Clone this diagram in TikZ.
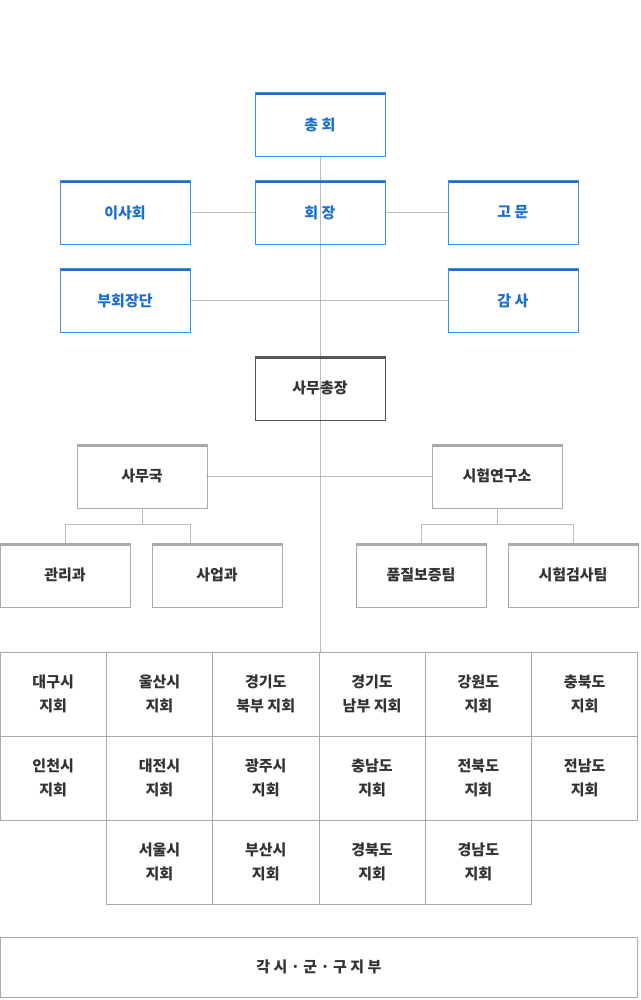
\documentclass[tikz,border=0pt]{standalone}
\usepackage{fontspec}
\newfontfamily\kr{Noto Sans CJK KR}
\definecolor{bl}{HTML}{1A6FD0}
\definecolor{blt}{HTML}{3D8EDB}
\definecolor{ln}{HTML}{BBBBBB}
\definecolor{gb}{HTML}{AAAAAA}
\definecolor{dk}{HTML}{555555}
\definecolor{tx}{HTML}{333333}
\tikzset{
 every node/.style={font=\kr\bfseries\fontsize{15}{24}\selectfont, text=tx, align=center},
 bbox/.style={draw=blt, line width=0.8pt, minimum width=130pt, minimum height=64pt, inner sep=0pt, text=bl,
   append after command={\pgfextra{\draw[bl, line width=3pt] (\tikzlastnode.north west)++(0,-1.5pt) -- ([yshift=-1.5pt]\tikzlastnode.north east);}}},
 gbox/.style={draw=gb, line width=0.8pt, minimum width=130pt, minimum height=64pt, inner sep=0pt,
   append after command={\pgfextra{\draw[gb, line width=3pt] (\tikzlastnode.north west)++(0,-1.5pt) -- ([yshift=-1.5pt]\tikzlastnode.north east);}}},
 dbox/.style={draw=dk, line width=0.8pt, minimum width=130pt, minimum height=64pt, inner sep=0pt,
   append after command={\pgfextra{\draw[dk, line width=3pt] (\tikzlastnode.north west)++(0,-1.5pt) -- ([yshift=-1.5pt]\tikzlastnode.north east);}}},
 cell/.style={draw=gb, line width=0.8pt, minimum width=106.3pt, minimum height=84pt, inner sep=0pt},
 conn/.style={draw=ln, line width=0.8pt}
}
\begin{document}
\begin{tikzpicture}[x=1pt,y=-1pt]
\useasboundingbox[fill=white] (0,0) rectangle (640,1000);
\coordinate (top) at (320,157);
\coordinate (gtop) at (320,652);
\draw[conn] (top) -- (gtop);
\draw[conn] (190,212) -- (255,212) (385,212) -- (448,212);
\draw[conn] (190,300) -- (448,300);
\draw[conn] (206,476) -- (432,476);
\draw[conn] (142,508) -- (142,524) (65,543) -- (65,524) -- (190,524) -- (190,543);
\draw[conn] (497,508) -- (497,524) (421,543) -- (421,524) -- (573,524) -- (573,543);
\node[bbox] (ch) at (320,124.5) {총 회};
\node[bbox] (pr) at (320,212.5) {회 장};
\node[bbox] (bd) at (125,212.5) {이사회};
\node[bbox] (ad) at (513,212.5) {고 문};
\node[bbox] (vp) at (125,300.5) {부회장단};
\node[bbox] (au) at (513,300.5) {감 사};
\node[dbox] (sg) at (320,388) {사무총장};
\node[gbox] (so) at (142,476) {사무국};
\node[gbox] (ri) at (497,476) {시험연구소};
\node[gbox] (a1) at (65,575) {관리과};
\node[gbox] (a2) at (217,575) {사업과};
\node[gbox] (b1) at (421,575) {품질보증팀};
\node[gbox] (b2) at (573,575) {시험검사팀};
\foreach \t [count=\i from 0] in {대구시\\지회,울산시\\지회,경기도\\북부 지회,경기도\\남부 지회,강원도\\지회,충북도\\지회}
  \node[cell] (r1c\i) at ({53.15+106.3*\i},694) {\t};
\foreach \t [count=\i from 0] in {인천시\\지회,대전시\\지회,광주시\\지회,충남도\\지회,전북도\\지회,전남도\\지회}
  \node[cell] (r2c\i) at ({53.15+106.3*\i},778) {\t};
\foreach \t [count=\i from 1] in {서울시\\지회,부산시\\지회,경북도\\지회,경남도\\지회}
  \node[cell] (r3c\i) at ({53.15+106.3*\i},862) {\t};
\node[draw=gb, line width=0.8pt, minimum width=637.8pt, minimum height=60pt, inner sep=0pt] (br) at (318.9,967) {각 시 · 군 · 구 지 부};
\end{tikzpicture}
\end{document}
